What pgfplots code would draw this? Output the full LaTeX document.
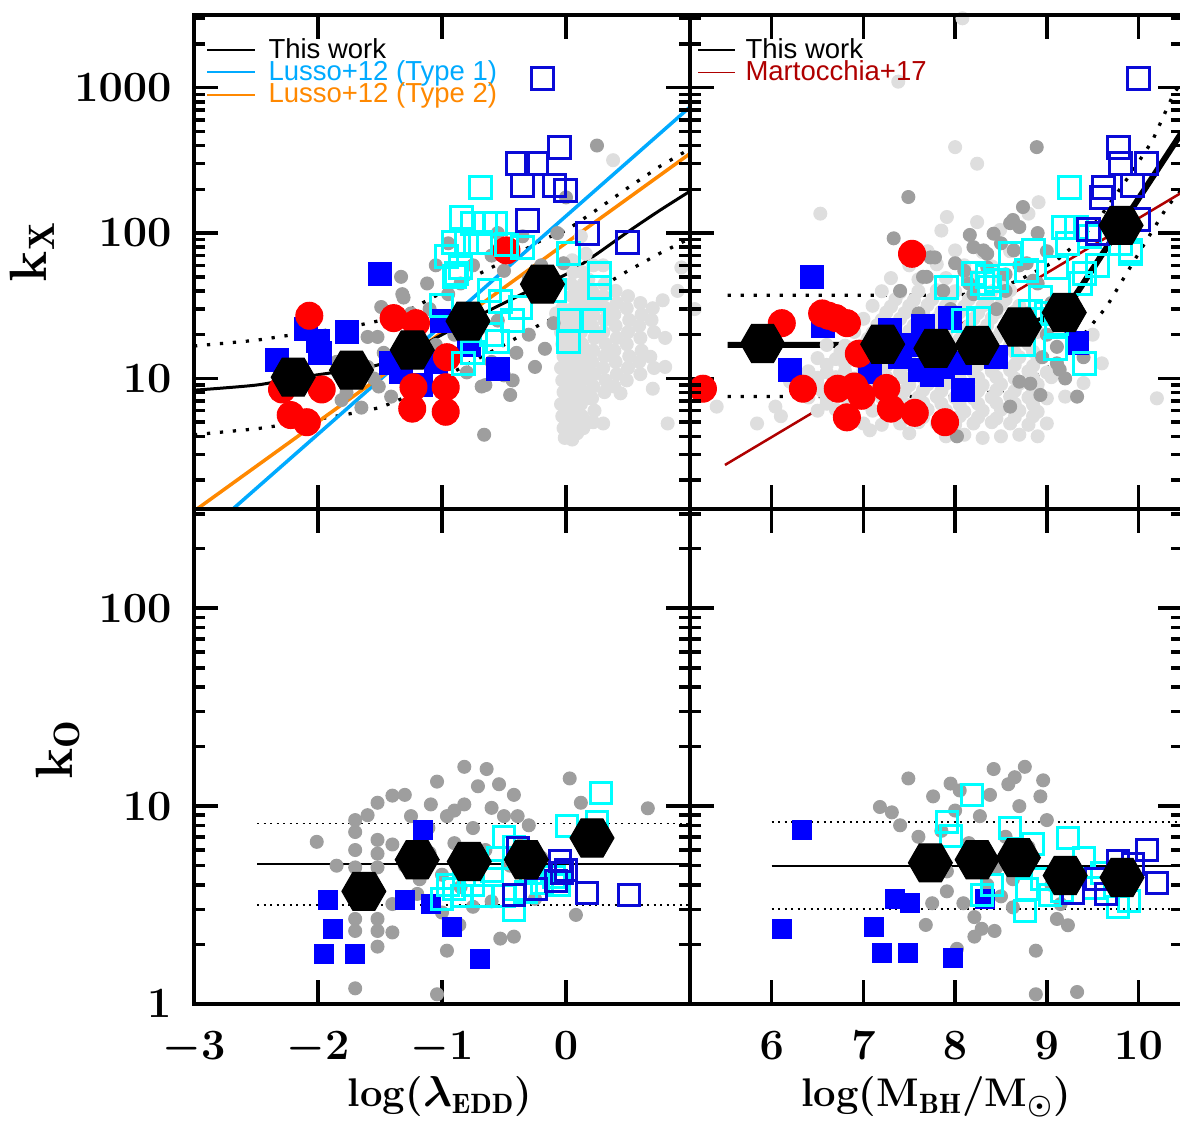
\documentclass[border=0pt]{standalone}
\usepackage{fontspec}
\usepackage{pgfplots}
\pgfplotsset{compat=1.18}
\newfontfamily\legfont{Liberation Sans}
\definecolor{lgrey}{RGB}{222,222,222}
\definecolor{dgrey}{RGB}{158,158,158}
\definecolor{bfill}{RGB}{0,0,255}
\definecolor{dblue}{RGB}{10,10,215}
\definecolor{cyanc}{RGB}{0,255,255}
\definecolor{redc}{RGB}{255,0,0}
\definecolor{lussoA}{RGB}{0,170,255}
\definecolor{lussoB}{RGB}{255,136,0}
\definecolor{marto}{RGB}{175,0,0}
\pgfdeclareplotmark{hexagon*}{%
  \pgfpathmoveto{\pgfqpoint{\pgfplotmarksize}{0pt}}%
  \pgfpathlineto{\pgfpointpolar{60}{\pgfplotmarksize}}%
  \pgfpathlineto{\pgfpointpolar{120}{\pgfplotmarksize}}%
  \pgfpathlineto{\pgfpointpolar{180}{\pgfplotmarksize}}%
  \pgfpathlineto{\pgfpointpolar{240}{\pgfplotmarksize}}%
  \pgfpathlineto{\pgfpointpolar{300}{\pgfplotmarksize}}%
  \pgfpathclose\pgfusepathqfillstroke}
\pgfplotsset{
  kpanel/.style={scale only axis, clip=false,
    axis line style={line width=1.6pt},
    tick style={line width=1.4pt, color=black},
    major tick length=9.6pt,
    tick align=inside, xtick pos=both, ytick pos=both,
    tick label style={font=\fontsize{16.5}{18}\selectfont\boldmath, inner sep=0pt},
    xticklabel shift=11pt, yticklabel shift=8.8pt,
    yminorticks=false, xminorticks=false},
  ktop/.style={ymin=1.2589, ymax=3162.3, height=197.72pt, ytick={10,100,1000}},
  kbot/.style={ymin=1, ymax=316.23, height=197.88pt, ytick={1,10,100}},
  kleft/.style={xmin=-3, xmax=1, width=198.4pt, xtick={-3,-2,-1,0}},
  kright/.style={xmin=5.109, xmax=10.474, width=196.8pt, xtick={6,7,8,9,10}},
  kminor/.style={major tick length=4.4pt, xtick=\empty, xticklabels={}, yticklabels={}},
  kmintop/.style={ytick={2,3,4,5,6,7,8,9,20,30,40,50,60,70,80,90,200,300,400,500,600,700,800,900,2000,3000}},
  kminbot/.style={ytick={2,3,4,5,6,7,8,9,20,30,40,50,60,70,80,90,200,300}},
  klg/.style={only marks, mark=*, mark size=2.6pt, color=lgrey},
  kdg/.style={only marks, mark=*, mark size=2.6pt, color=dgrey},
  krd/.style={only marks, mark=*, mark size=5.4pt, color=redc},
  kbft/.style={only marks, mark=square*, mark size=4.6pt, color=bfill},
  kbfb/.style={only marks, mark=square*, mark size=3.8pt, color=bfill},
  kcyt/.style={only marks, mark=square, mark size=4.4pt, color=cyanc, line width=1.2pt},
  kdbt/.style={only marks, mark=square, mark size=4.4pt, color=dblue, line width=1.2pt},
  khx/.style={only marks, mark=hexagon*, mark size=8.8pt, color=black},
  kbigdot/.style={line width=1.3pt, dash pattern=on 1.3pt off 3.9pt},
  ksmalldot/.style={line width=0.6pt, dash pattern=on 0.8pt off 1.8pt},
}
\begin{document}
\begin{tikzpicture}
\path[use as bounding box] (0,0) rectangle (472pt,448pt);
% ---------------- top left
\begin{axis}[ymode=log, kpanel, ktop, kleft, at={(77.6pt,244.28pt)}, anchor=south west,
  xticklabels={}, yticklabels={$10$,$100$,$1000$}]
\addplot[klg] coordinates {(-0.03,30.4)(-0.02,25.2)(-0.04,20.8)(-0.03,17.2)(-0.02,14.2)(-0.04,11.8)(-0.03,9.7)(-0.02,8.05)(-0.04,6.65)(-0.03,5.5)(-0.02,4.55)(-0.01,3.9)
(0.01,27.5)(0.00,23)(0.01,19)(0.00,15.5)(0.01,13)(0.00,10.7)(0.01,8.8)(0.00,7.3)(0.01,6.0)(0.00,5.0)(0.01,4.2)
(0.05,65)(0.06,53.8)(0.04,44.5)(0.05,36.8)(0.06,30.4)(0.04,25.2)(0.05,20.8)(0.06,17.2)(0.04,14.2)(0.05,11.8)(0.06,9.7)(0.04,8.05)(0.05,6.65)(0.06,5.5)(0.04,4.55)(0.05,3.8)
(0.09,40)(0.09,33)(0.09,27.5)(0.09,23)(0.09,19)(0.09,15.5)(0.09,13)(0.09,10.7)(0.09,8.8)(0.09,7.3)(0.09,6.0)(0.09,5.0)(0.09,4.2)
(0.13,53.8)(0.14,44.5)(0.12,36.8)(0.13,30.4)(0.14,25.2)(0.12,20.8)(0.13,17.2)(0.14,14.2)(0.12,11.8)(0.13,9.7)(0.14,8.05)(0.12,6.65)(0.13,5.5)(0.14,4.55)
(0.18,48)(0.17,33)(0.18,23)(0.17,15.5)(0.18,10.7)(0.17,7.3)(0.18,5.0)
(0.22,60)(0.21,40)(0.23,33)(0.22,27.5)(0.21,23)(0.23,19)(0.22,15.5)(0.21,13)(0.23,10.7)(0.22,8.8)(0.21,7.3)(0.23,6.0)(0.22,5.0)
(0.31,44.5)(0.30,36.8)(0.32,30.4)(0.31,25.2)(0.30,20.8)(0.32,17.2)(0.31,14.2)(0.30,11.8)(0.32,9.7)(0.31,8.05)(0.30,4.9)
(0.40,40)(0.41,33)(0.39,27.5)(0.40,23)(0.41,19)(0.39,15.5)(0.40,13)(0.41,10.7)(0.39,8.8)(0.44,7.9)
(0.50,36.8)(0.49,30.4)(0.51,25.2)(0.50,20.8)(0.49,17.2)(0.51,14.2)(0.50,11.8)(0.49,9.7)
(0.60,33)(0.61,27.5)(0.59,23)(0.60,19)(0.61,15.5)(0.59,13)(0.60,10.7)
(0.70,30.4)(0.69,25.2)(0.71,20.8)(0.68,14.1)(0.71,11.8)(0.70,8.5)
(0.78,34.5)(0.80,19)(0.80,12)(0.82,4.9)
(0.93,58)(0.38,317)(0.12,95)(0.90,40)(-0.08,28)(0.16,72)(0.30,60)};
\addplot[kdg] coordinates {(-1.33,50)(-1.12,45)(-1.31,36)(-1.49,31)(-1.60,19.3)(-1.52,19.3)(-1.47,15)(-1.77,8.0)(-1.81,7.1)(-1.51,8.8)(-1.41,7.5)(-1.65,6.3)(-0.68,8.8)(-0.66,4.1)(-1.32,38)(-0.65,9.0)(-0.45,7.7)(-0.43,9.7)(-0.17,16)(-0.40,15)(0.25,400)(0.00,176)(-0.07,100)(-0.02,62)(-1.85,13)(-1.60,12)(-1.70,10.5)(-1.55,10)(-1.25,28)(-1.10,30)(-0.95,38)(-0.85,45)(-0.75,60)(-0.60,70)(-0.50,55)(-0.30,48)(-0.20,60)(-0.35,95)(-0.55,100)(-0.95,85)(-1.05,60)(-0.90,20)(-0.70,22)(-0.55,25)(-0.60,13)(-0.50,10.5)(-0.25,12)(-0.30,20)(-0.10,24)(-1.20,20)(-1.40,24)(-1.05,17)(-0.80,11)};
\addplot[kbft] coordinates {(-1.50,52)(-2.33,13.4)(-2.10,22)(-2.00,18)(-1.98,15)(-1.77,21)(-1.41,12.7)(-1.33,11)(-1.17,9)(-1.00,25)(-0.78,17)(-0.55,11.6)(-1.05,13)};
\addplot[krd] coordinates {(-2.07,27)(-2.29,8.4)(-1.97,8.4)(-2.22,5.6)(-2.09,5.0)(-1.39,26)(-1.21,24)(-0.96,14)(-1.23,8.7)(-1.24,6.2)(-0.97,8.7)(-0.97,5.9)(-0.48,76)};
\addplot[kcyt] coordinates {(-0.69,207)(-0.84,128)(-0.75,117)(-0.65,117)(-0.57,117)(-0.91,86)(-0.80,86)(-0.69,86)(-0.48,83)(-0.35,80)(-0.96,69)(-0.85,58)(-0.90,50)(0.02,72)(0.27,53)(0.27,42)(-0.09,40)(-0.53,34)(-0.37,31)(-0.43,25)(0.03,25)(0.22,25)(0.02,18)(-0.55,18)(-0.75,15)(-0.83,12.7)(-1.00,32)(-0.88,53)(-0.60,20)(-0.62,40)};
\addplot[kdbt] coordinates {(-0.19,1160)(-0.05,390)(-0.39,300)(-0.24,300)(-0.35,213)(-0.09,213)(0.00,197)(-0.31,122)(0.17,100)(0.50,86)};
\addplot[black, kbigdot] coordinates {(-3,16.7)(-2.5,18.3)(-2.2,20)(-1.75,22.5)(-1.5,25)(-1.25,30)(-1.0,39)(-0.79,48)(-0.5,64)(-0.19,90)(0,104)(0.25,145)(0.5,205)(0.75,285)(1.0,380)};
\addplot[black, kbigdot] coordinates {(-3,4.1)(-2.5,4.5)(-2.2,4.9)(-1.75,5.7)(-1.5,6.3)(-1.25,7.7)(-1.0,10)(-0.79,12.6)(-0.5,17)(-0.19,24)(0,28)(0.25,41)(0.5,55)(0.75,72)(1.0,92)};
\addplot[lussoA, line width=1.4pt] coordinates {(-2.689,1.2589)(1.0,736)};
\addplot[lussoB, line width=1.4pt] coordinates {(-2.979,1.2589)(1.0,352)};
\addplot[black, line width=1.2pt, smooth] coordinates {(-3,8.3)(-2.5,9.0)(-2.2,10.0)(-1.75,11.4)(-1.5,12.5)(-1.25,15.3)(-1.0,20)(-0.79,24.8)(-0.5,33)(-0.19,44.5)(0,52)(0.25,72)(0.5,102)(0.75,142)(1.0,194)};
\addplot[khx] coordinates {(-2.20,10.2)(-1.73,11.4)(-1.24,15.7)(-0.79,24.8)(-0.19,44.5)};
\end{axis}
\begin{axis}[ymode=log, kpanel, ktop, kleft, kminor, kmintop, at={(77.6pt,244.28pt)}, anchor=south west]
\end{axis}
% ---------------- top right
\begin{axis}[ymode=log, kpanel, ktop, kright, at={(276pt,244.28pt)}, anchor=south west,
  xticklabels={}, yticklabels={}]
\addplot[klg] coordinates {(7.9,4.0)(8.1,4.1)(8.3,3.9)(8.5,4.0)(8.7,4.1)(8.9,4.0)
(7.0,4.9)(7.2,4.8)(7.4,4.9)(7.6,5.0)(7.8,4.9)(8.0,4.8)(8.2,4.9)(8.4,5.0)(8.6,4.9)(8.8,4.8)(9.0,4.9)
(6.5,6.0)(6.7,6.1)(7.1,6.0)(7.3,5.9)(7.5,6.0)(7.7,6.1)(7.9,6.0)(8.1,5.9)(8.3,6.0)(8.5,6.1)(8.7,6.0)(8.9,5.9)
(6.4,7.4)(6.6,7.3)(6.8,7.4)(7.0,7.5)(7.2,7.4)(7.4,7.3)(7.6,7.4)(7.8,7.5)(8.0,7.4)(8.2,7.3)(8.4,7.4)(8.6,7.5)(8.8,7.4)(9.0,7.3)
(6.5,9.1)(6.7,9.0)(6.9,9.1)(7.1,9.2)(7.3,9.1)(7.5,9.0)(7.7,9.1)(7.9,9.2)(8.1,9.1)(8.3,9.0)(8.5,9.1)(8.7,9.2)(8.9,9.1)(9.4,9.3)
(6.4,11.2)(6.6,11.0)(6.8,11.2)(7.0,11.4)(7.2,11.2)(7.4,11.0)(7.6,11.2)(7.8,11.4)(8.0,11.2)(8.2,11.0)(8.4,11.2)(8.6,11.4)(8.8,11.2)(9.0,11.0)
(6.5,13.8)(6.7,13.6)(6.9,13.8)(7.1,14.0)(7.3,13.8)(7.5,13.6)(7.7,13.8)(7.9,14.0)(8.1,13.8)(8.3,13.6)(8.5,13.8)(8.7,14.0)(8.9,13.8)(9.6,12.7)
(6.6,17.0)(6.8,16.8)(7.0,17.0)(7.2,17.2)(7.4,17.0)(7.6,16.8)(7.8,17.0)(8.0,17.2)(8.2,17.0)(8.4,16.8)(8.6,17.0)(8.8,17.2)
(6.9,20.9)(7.1,20.6)(7.3,20.9)(7.5,21.2)(7.7,20.9)(7.9,20.6)(8.1,20.9)(8.3,21.2)(8.5,20.9)(8.7,20.6)(8.9,20.9)(9.5,20)
(7.0,25.7)(7.2,25.3)(7.4,25.7)(7.6,26.1)(7.8,25.7)(8.0,25.3)(8.2,25.7)(8.4,26.1)(8.6,25.7)(8.8,25.3)
(7.1,31.6)(7.3,31.2)(7.5,31.6)(7.7,32.0)(7.9,31.6)(8.1,31.2)(8.3,31.6)(8.5,32.0)(8.7,31.6)
(7.2,39.8)(7.4,39.2)(7.6,39.8)(7.8,40.4)(8.0,39.8)(8.2,39.2)(8.4,39.8)(8.6,40.4)
(7.3,49)(7.6,48)(7.9,49)(8.2,50)(8.5,49)
(7.5,60)(7.8,61)(8.1,60)(8.4,59)(8.7,60)
(7.7,75)(8.0,76)(8.3,74)(8.6,75)
(7.65,5.4)(7.85,5.4)(8.05,5.5)(8.25,5.4)(8.45,5.3)(8.65,5.4)(8.85,5.5)
(6.6,6.7)(7.05,6.7)(7.25,6.6)(7.45,6.7)(7.65,6.8)(7.85,6.7)(8.05,6.6)(8.25,6.7)(8.45,6.8)(8.65,6.7)(8.85,6.6)
(6.55,8.2)(6.75,8.3)(7.05,8.2)(7.25,8.1)(7.45,8.2)(7.65,8.3)(7.85,8.2)(8.05,8.1)(8.25,8.2)(8.45,8.3)(8.65,8.2)(8.85,8.1)
(6.5,10.1)(6.7,10.2)(6.9,10.0)(7.05,10.1)(7.25,10.2)(7.45,10.0)(7.65,10.1)(7.85,10.2)(8.05,10.0)(8.25,10.1)(8.45,10.2)(8.65,10.0)(8.85,10.1)(9.05,10.2)
(6.6,12.4)(6.8,12.6)(7.05,12.4)(7.25,12.2)(7.45,12.4)(7.65,12.6)(7.85,12.4)(8.05,12.2)(8.25,12.4)(8.45,12.6)(8.65,12.4)(8.85,12.2)
(6.75,15.3)(7.05,15.1)(7.25,15.3)(7.45,15.5)(7.65,15.3)(7.85,15.1)(8.05,15.3)(8.25,15.5)(8.45,15.3)(8.65,15.1)(8.85,15.3)
(7.05,18.8)(7.25,18.6)(7.45,18.8)(7.65,19.0)(7.85,18.8)(8.05,18.6)(8.25,18.8)(8.45,19.0)(8.65,18.8)
(7.15,23.2)(7.35,23.0)(7.55,23.2)(7.75,23.4)(7.95,23.2)(8.15,23.0)(8.35,23.2)(8.55,23.4)(8.75,23.2)
(7.25,28.5)(7.45,28.2)(7.65,28.5)(7.85,28.8)(8.05,28.5)(8.25,28.2)(8.45,28.5)(8.65,28.8)
(7.35,35)(7.55,34.6)(7.75,35)(7.95,35.4)(8.15,35)(8.35,34.6)(8.55,35)
(8.08,3000)(7.38,1100)(8.00,390)(8.24,300)(6.53,136)(7.91,129)(8.24,119)(8.80,136)(8.91,163)(7.85,104)(8.49,105)(5.40,6.4)(6.04,6.4)(5.84,4.9)(5.16,30)(10.2,7.3)(6.20,9.5)(6.10,5.5)(7.07,4.4)(7.50,4.2)(9.2,7.5)};
\addplot[kdg] coordinates {(7.49,177)(8.89,390)(7.33,92)(8.16,97)(8.74,151)(8.63,123)(8.60,117)(8.42,99)(7.73,68)(7.65,50)(7.87,40)(8.31,76)(8.35,58)(9.11,12.7)(8.82,9.2)(8.93,7.7)(9.33,7.5)(8.60,6.4)(8.02,4.0)(8.50,85)(8.70,60)(8.90,45)(9.00,20)(8.10,55)(8.45,30)(8.95,14)(9.20,10)(8.70,9.5)(7.95,30)(8.20,38)(8.55,40)(8.80,28)(9.05,33)(8.65,19)(8.25,20)(9.25,22)(7.40,40)(7.60,28)(9.40,14)(8.35,72)(8.64,76)(8.78,62)(8.85,47)(7.78,68)(7.69,50)(9.14,11.5)(9.11,16.5)(8.20,80)(8.00,62)(8.90,100)(8.70,110)(9.00,75)(8.55,52)(8.15,45)};
\addplot[kbft] coordinates {(6.44,50)(6.56,23)(6.20,11.4)(7.29,21.5)(7.65,23)(7.94,26)(7.51,17)(7.62,11.4)(7.87,12)(8.09,8.3)(8.05,12.7)(8.45,14)(7.07,11)(9.33,17.4)(7.40,14)(7.75,10.5)};
\addplot[krd] coordinates {(7.53,72)(6.11,24)(6.55,28)(6.70,26)(6.82,24)(6.95,14.8)(5.25,8.5)(6.34,8.5)(6.72,8.5)(6.90,8.8)(7.25,8.6)(6.82,5.4)(7.30,6.2)(7.56,5.8)(7.89,5.0)(6.62,27)(6.98,7.6)};
\addplot[kcyt] coordinates {(9.25,207)(9.18,110)(9.32,110)(9.47,94)(9.91,76)(9.22,85)(8.60,72)(8.85,76)(8.78,55)(9.11,58)(9.41,53)(8.20,53)(8.35,50)(8.45,47)(7.91,42)(8.38,42)(8.93,36)(9.37,45)(8.09,25)(8.82,29)(9.11,24)(8.75,17)(9.09,16)(9.41,12.7)(9.91,72)(9.80,85)(8.25,26)(9.55,60)(9.00,28)(8.30,45)};
\addplot[kdbt] coordinates {(10.0,1150)(9.78,390)(9.80,300)(10.09,300)(9.62,207)(9.93,212)(9.60,177)(10.0,123)(9.45,105)(9.55,100)};
\addplot[black, kbigdot] coordinates {(5.52,37.3)(7.95,37.3)(8.38,39)(8.74,49)(9.11,65)(9.36,89)(9.58,129)(9.76,186)(9.94,270)(10.15,430)(10.38,900)(10.474,1100)};
\addplot[black, kbigdot] coordinates {(5.52,7.5)(8.0,7.5)(8.56,8.3)(8.93,10.8)(9.29,16.5)(9.65,31)(10.02,76)(10.31,151)(10.474,200)};
\addplot[marto, line width=1.0pt] coordinates {(5.49,2.54)(10.474,190.5)};
\addplot[black, line width=2.4pt] coordinates {(5.52,17)(8.24,17)(8.70,22.6)(9.19,28.4)(9.81,113)(10.474,495)};
\addplot[khx] coordinates {(5.90,17.4)(7.21,17.2)(7.79,16.1)(8.24,16.9)(8.70,22.6)(9.19,28.4)(9.81,113)};
\end{axis}
\begin{axis}[ymode=log, kpanel, ktop, kright, kminor, kmintop, at={(276pt,244.28pt)}, anchor=south west]
\end{axis}
% ---------------- bottom left
\begin{axis}[ymode=log, kpanel, kbot, kleft, at={(77.6pt,46.4pt)}, anchor=south west,
  xticklabels={$-3$,$-2$,$-1$,$0$}, yticklabels={$1$,$10$,$100$}]
\addplot[kdg] coordinates {(-2.01,6.6)(-1.70,8.5)(-1.70,7.4)(-1.70,6.0)(-1.70,4.9)(-1.70,2.69)(-1.70,2.34)(-1.70,1.2)(-1.52,10.4)(-1.52,6.75)(-1.52,5.75)(-1.52,4.9)(-1.52,2.69)(-1.52,2.34)(-1.52,1.95)(-1.40,11.3)(-1.30,11.4)(-1.40,6.4)(-1.40,2.3)(-1.25,6.15)(-1.25,8.9)(-1.18,4.27)(-1.11,7.75)(-1.09,10.2)(-1.04,13.3)(-1.04,1.12)(-0.96,1.86)(-0.96,8.9)(-0.86,2.51)(-0.82,15.8)(-0.82,10.2)(-0.75,7.75)(-0.75,3.1)(-0.71,12.6)(-0.64,15.4)(-0.54,12.9)(-0.53,2.14)(-0.50,8.9)(-0.42,11.4)(-0.42,2.19)(-0.39,8.9)(0.03,13.8)(0.12,10.4)(0.66,9.75)(0.08,2.82)(-1.30,5.0)(-1.20,3.6)(-1.10,5.8)(-1.00,4.5)(-0.90,6.5)(-0.90,9.5)(-0.80,5.5)(-0.65,6.0)(-0.60,9.8)(-0.45,5.0)(-0.35,6.5)(-0.30,8.0)(-0.20,5.5)(-0.25,3.4)(-0.60,3.3)(-0.85,3.9)(-1.00,2.9)(-1.60,9.0)(-1.85,5.0)(-1.40,3.2)};
\addplot[kbfb] coordinates {(-1.92,3.35)(-1.88,2.40)(-1.95,1.79)(-1.70,1.79)(-1.15,7.57)(-1.30,3.35)(-1.09,3.2)(-0.92,2.45)(-0.69,1.68)};
\addplot[kcyt, mark size=4.2pt] coordinates {(0.28,11.6)(0.01,7.9)(0.25,8.3)(-0.50,7.0)(-0.42,6.2)(-0.60,4.7)(-0.82,4.5)(-1.00,3.4)(-0.84,3.5)(-0.68,3.5)(-0.42,3.0)(-0.32,3.7)(-0.19,4.1)(-0.06,4.0)(-0.50,3.5)(-0.28,4.6)(-0.75,4.0)(-0.95,4.0)(-0.55,5.5)(-0.10,4.4)(-0.90,3.8)};
\addplot[kdbt, mark size=4.2pt] coordinates {(0.17,3.63)(0.51,3.54)(-0.05,5.25)(-0.03,4.57)(-0.24,3.8)(-0.39,6.15)(-0.42,3.54)(0.00,4.77)(-0.08,4.17)};
\addplot[black, ksmalldot] coordinates {(-2.49,8.19)(1.0,8.19)};
\addplot[black, ksmalldot] coordinates {(-2.49,3.16)(1.0,3.16)};
\addplot[black, line width=0.8pt] coordinates {(-2.49,5.12)(1.0,5.12)};
\addplot[khx] coordinates {(-1.63,3.71)(-1.20,5.36)(-0.78,5.25)(-0.32,5.36)(0.21,6.9)};
\end{axis}
\begin{axis}[ymode=log, kpanel, kbot, kleft, kminor, kminbot, at={(77.6pt,46.4pt)}, anchor=south west]
\end{axis}
% ---------------- bottom right
\begin{axis}[ymode=log, kpanel, kbot, kright, at={(276pt,46.4pt)}, anchor=south west,
  xticklabels={$6$,$7$,$8$,$9$,$10$}, yticklabels={}]
\addplot[kdg] coordinates {(7.49,13.8)(8.42,15.4)(8.76,15.8)(8.96,13.5)(8.58,12.9)(8.93,11.2)(7.18,9.9)(7.31,9.3)(7.76,11.2)(8.38,11.4)(8.27,8.9)(9.00,8.5)(7.73,5.9)(7.91,4.68)(7.75,3.23)(7.68,2.51)(8.21,2.75)(8.21,2.19)(8.29,2.40)(8.43,2.34)(8.02,1.9)(9.11,2.69)(9.23,2.5)(8.88,1.86)(8.88,1.12)(9.33,1.15)(8.45,4.9)(8.63,4.27)(7.91,3.71)(8.09,3.23)(8.63,3.08)(8.50,3.5)(7.85,7.5)(8.00,9.5)(8.15,6.5)(8.55,7.0)(8.70,10)(8.80,6.2)(8.30,5.8)(8.05,12)(7.95,13)(8.65,14)(9.05,4.0)(9.15,3.2)(8.35,4.0)(7.60,7.0)(7.40,8.0)};
\addplot[kbfb] coordinates {(6.33,7.57)(6.11,2.40)(7.34,3.39)(7.51,3.23)(7.11,2.45)(7.20,1.82)(7.49,1.82)(7.98,1.70)(8.33,3.39)};
\addplot[kcyt, mark size=4.2pt] coordinates {(8.18,11.4)(7.91,8.3)(7.95,7.05)(8.60,7.75)(8.85,6.4)(9.23,6.9)(9.41,5.5)(8.29,3.54)(8.78,3.8)(8.76,2.95)(9.03,3.54)(9.16,3.71)(9.51,3.88)(9.78,3.08)(9.90,3.31)(8.40,4.0)(9.60,4.6)(8.95,4.3)};
\addplot[kdbt, mark size=4.2pt] coordinates {(10.09,6.0)(10.20,4.07)(9.78,5.25)(9.54,4.27)(9.29,3.63)(9.94,5.12)(9.65,3.6)};
\addplot[black, ksmalldot] coordinates {(6.0,8.3)(10.474,8.3)};
\addplot[black, ksmalldot] coordinates {(6.0,3.02)(10.474,3.02)};
\addplot[black, line width=0.8pt] coordinates {(6.0,5.0)(10.474,5.0)};
\addplot[khx] coordinates {(7.73,5.17)(8.24,5.36)(8.69,5.49)(9.20,4.46)(9.82,4.36)};
\end{axis}
\begin{axis}[ymode=log, kpanel, kbot, kright, kminor, kminbot, at={(276pt,46.4pt)}, anchor=south west]
\end{axis}
% ---------------- legends
\draw[black, line width=0.6pt] (82.8pt,428pt) -- (102pt,428pt);
\draw[lussoA, line width=0.6pt] (82.8pt,419.2pt) -- (102pt,419.2pt);
\draw[lussoB, line width=0.6pt] (82.8pt,410pt) -- (102pt,410pt);
\node[anchor=base west, inner sep=0pt, font=\legfont\fontsize{11}{13}\selectfont] at (107.2pt,424.4pt) {This work};
\node[anchor=base west, inner sep=0pt, text=lussoA, font=\legfont\fontsize{11}{13}\selectfont] at (107.2pt,415.8pt) {Lusso+12 (Type 1)};
\node[anchor=base west, inner sep=0pt, text=lussoB, font=\legfont\fontsize{11}{13}\selectfont] at (107.2pt,406.8pt) {Lusso+12 (Type 2)};
\draw[black, line width=0.6pt] (279.3pt,428pt) -- (294pt,428pt);
\draw[marto, line width=0.6pt] (279.3pt,419pt) -- (294pt,419pt);
\node[anchor=base west, inner sep=0pt, font=\legfont\fontsize{11}{13}\selectfont] at (298pt,424.4pt) {This work};
\node[anchor=base west, inner sep=0pt, text=marto, font=\legfont\fontsize{11}{13}\selectfont] at (298pt,415.6pt) {Martocchia+17};
% ---------------- axis titles
\node[rotate=90, inner sep=0pt, font=\fontsize{21}{24}\selectfont\bfseries\boldmath] at (12.8pt,347.2pt) {k$_{\mathrm{X}}$};
\node[rotate=90, inner sep=0pt, font=\fontsize{21}{24}\selectfont\bfseries\boldmath] at (23.2pt,148pt) {k$_{\mathrm{O}}$};
\node[inner sep=0pt, font=\fontsize{16}{18}\selectfont\bfseries\boldmath] at (176pt,9.2pt) {log($\lambda_{\mathrm{EDD}}$)};
\node[inner sep=0pt, font=\fontsize{16}{18}\selectfont\bfseries\boldmath] at (374.4pt,9.2pt) {log(M$_{\mathrm{BH}}$/M$_{\odot}$)};
\end{tikzpicture}
\end{document}
